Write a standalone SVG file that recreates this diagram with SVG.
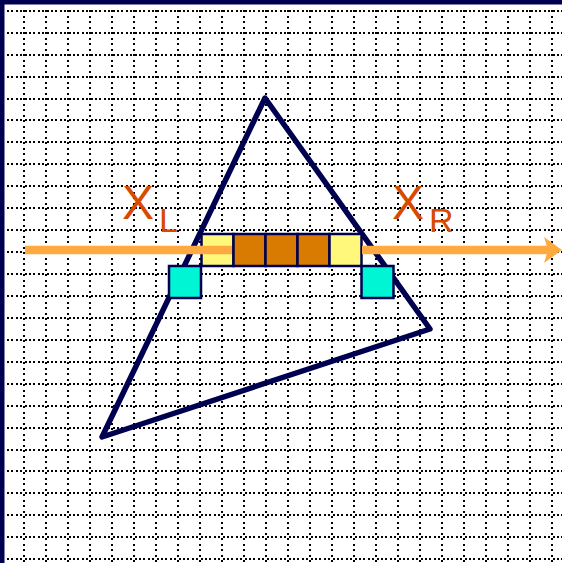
<svg xmlns="http://www.w3.org/2000/svg" width="562" height="563" viewBox="0 0 562 563">
<style>
.h{stroke:#000;stroke-width:2;stroke-dasharray:2 2.4;shape-rendering:crispEdges}
.v{stroke:#000;stroke-width:2;stroke-dasharray:2 3.5;shape-rendering:crispEdges}
.cell{stroke:#000050;stroke-width:2.5}
.lab{font-family:"Liberation Sans",Arial,sans-serif;fill:#D84A00}
</style>
<defs>
<marker id="ah" markerUnits="userSpaceOnUse" markerWidth="20" markerHeight="28" refX="6" refY="14" orient="auto">
<path d="M0,1 L18,14 L0,27 L4,14 Z" fill="#FFAA40"/>
</marker>
</defs>
<rect width="562" height="563" fill="#fff"/>
<g id="grid">
<g class="h">
<line x1="7" y1="11" x2="562" y2="11"/><line x1="7" y1="33" x2="562" y2="33"/><line x1="7" y1="55" x2="562" y2="55"/><line x1="7" y1="77" x2="562" y2="77"/><line x1="7" y1="99" x2="562" y2="99"/><line x1="7" y1="120" x2="562" y2="120"/><line x1="7" y1="142" x2="562" y2="142"/><line x1="7" y1="164" x2="562" y2="164"/><line x1="7" y1="186" x2="562" y2="186"/><line x1="7" y1="208" x2="562" y2="208"/><line x1="7" y1="230" x2="562" y2="230"/><line x1="7" y1="252" x2="562" y2="252"/><line x1="7" y1="274" x2="562" y2="274"/><line x1="7" y1="296" x2="562" y2="296"/><line x1="7" y1="318" x2="562" y2="318"/><line x1="7" y1="340" x2="562" y2="340"/><line x1="7" y1="362" x2="562" y2="362"/><line x1="7" y1="384" x2="562" y2="384"/><line x1="7" y1="406" x2="562" y2="406"/><line x1="7" y1="428" x2="562" y2="428"/><line x1="7" y1="450" x2="562" y2="450"/><line x1="7" y1="471" x2="562" y2="471"/><line x1="7" y1="493" x2="562" y2="493"/><line x1="7" y1="515" x2="562" y2="515"/><line x1="7" y1="537" x2="562" y2="537"/><line x1="7" y1="559" x2="562" y2="559"/>
</g>
<g class="v">
<line x1="24" y1="10" x2="24" y2="563"/><line x1="46" y1="10" x2="46" y2="563"/><line x1="68" y1="10" x2="68" y2="563"/><line x1="90" y1="10" x2="90" y2="563"/><line x1="112" y1="10" x2="112" y2="563"/><line x1="134" y1="10" x2="134" y2="563"/><line x1="156" y1="10" x2="156" y2="563"/><line x1="178" y1="10" x2="178" y2="563"/><line x1="200" y1="10" x2="200" y2="563"/><line x1="222" y1="10" x2="222" y2="563"/><line x1="244" y1="10" x2="244" y2="563"/><line x1="266" y1="10" x2="266" y2="563"/><line x1="288" y1="10" x2="288" y2="563"/><line x1="310" y1="10" x2="310" y2="563"/><line x1="332" y1="10" x2="332" y2="563"/><line x1="354" y1="10" x2="354" y2="563"/><line x1="376" y1="10" x2="376" y2="563"/><line x1="398" y1="10" x2="398" y2="563"/><line x1="420" y1="10" x2="420" y2="563"/><line x1="442" y1="10" x2="442" y2="563"/><line x1="464" y1="10" x2="464" y2="563"/><line x1="486" y1="10" x2="486" y2="563"/><line x1="508" y1="10" x2="508" y2="563"/><line x1="530" y1="10" x2="530" y2="563"/><line x1="552" y1="10" x2="552" y2="563"/>
</g>
</g>
<g id="border" fill="#000050">
<rect x="0" y="0" width="562" height="4.5"/>
<rect x="0" y="0" width="4.5" height="563"/>
</g>
<g id="triangle">
<polygon points="265,98 430,329 102,437" fill="none" stroke="#000050" stroke-width="5.5" stroke-linejoin="round"/>
</g>
<g id="span">
<rect class="cell" x="201.5" y="234" width="32" height="32" fill="#FFF87A"/>
<rect class="cell" x="233.5" y="234" width="32" height="32" fill="#D97B00"/>
<rect class="cell" x="265.5" y="234" width="32" height="32" fill="#D97B00"/>
<rect class="cell" x="297.5" y="234" width="32" height="32" fill="#D97B00"/>
<rect class="cell" x="329.5" y="234" width="32" height="32" fill="#FFF87A"/>
</g>
<g id="edgeL"><rect class="cell" x="169" y="266" width="32" height="32" fill="#00F5D4"/></g>
<g id="edgeR"><rect class="cell" x="361.5" y="266" width="32" height="32" fill="#00F5D4"/></g>
<g id="connectors" stroke="#FFAA40" stroke-width="8.5" fill="none">
<line x1="25" y1="250" x2="232" y2="250"/>
<line x1="362" y1="250" x2="550" y2="250" marker-end="url(#ah)"/>
</g>
<g id="labelL" class="lab"><text x="122" y="219" font-size="48">X</text><text x="159" y="232" font-size="34">L</text></g>
<g id="labelR" class="lab"><text x="392" y="219" font-size="48">X</text><text x="429" y="232" font-size="34">R</text></g>
</svg>
